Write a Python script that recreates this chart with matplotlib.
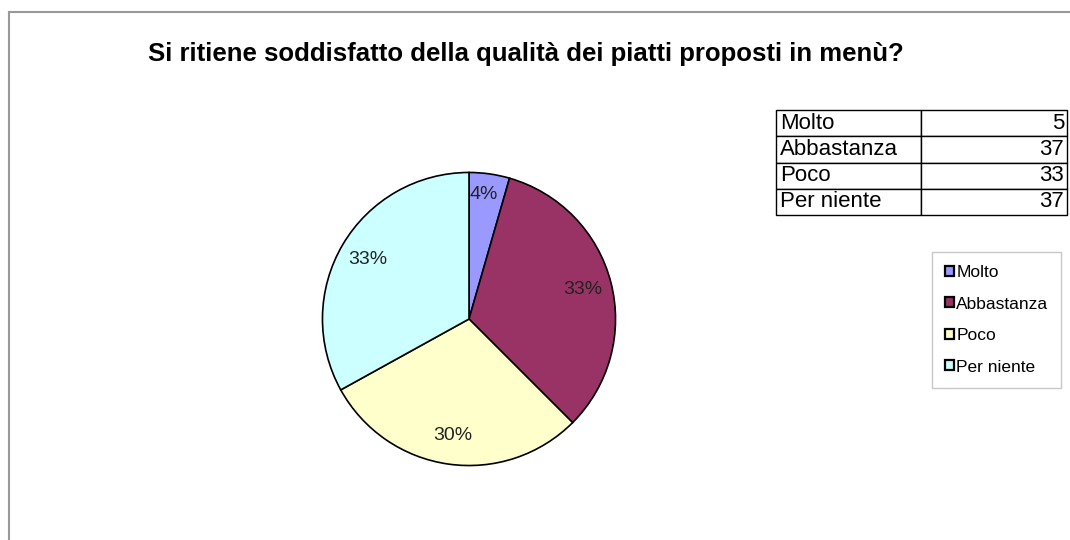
import matplotlib
matplotlib.use("Agg")
import matplotlib.pyplot as plt
from matplotlib.lines import Line2D
from matplotlib.patches import Patch

categories = ["Molto", "Abbastanza", "Poco", "Per niente"]
counts = [5, 37, 33, 37]
pct_labels = ["4%", "33%", "30%", "33%"]
colors = ["#9999FF", "#993366", "#FFFFCC", "#CCFFFF"]
title = "Si ritiene soddisfatto della qualità dei piatti proposti in menù?"

plt.rcParams['font.family'] = ['Liberation Sans', 'DejaVu Sans']

W, H = 1070, 540
fig = plt.figure(figsize=(W / 100, H / 100), dpi=100)

# outer frame (top and left edge only visible)
fig.add_artist(Line2D([9 / W, 1.0], [1 - 12 / H, 1 - 12 / H], color="#999999", lw=1.5))
fig.add_artist(Line2D([9 / W, 9 / W], [0.0, 1 - 12 / H], color="#999999", lw=1.5))

fig.text(526 / W, 1 - 54 / H, title, ha="center", va="center",
         fontsize=18.5, fontweight="bold")

# pie
cx, cy, r = 469, 319, 148
ax = fig.add_axes([(cx - r) / W, (H - cy - r) / H, 2 * r / W, 2 * r / H])
wedges, texts = ax.pie(
    counts, colors=colors, startangle=90, counterclock=False,
    labels=pct_labels, labeldistance=0.8,
    wedgeprops=dict(edgecolor="black", linewidth=1.2),
    textprops=dict(fontsize=14, color="#222222", ha="center", va="center"))
for t in texts:
    t.set_ha("center")
    t.set_va("center")
texts[0].set_position((0.1, 0.85))
ax.set_xlim(-1.01, 1.01)
ax.set_ylim(-1.01, 1.01)
ax.set_aspect("equal")
ax.axis("off")

# data table
tx0, tx1, ty0, ty1 = 776, 1067, 110, 215
tax = fig.add_axes([tx0 / W, (H - ty1) / H, (tx1 - tx0) / W, (ty1 - ty0) / H])
tax.axis("off")
cell_text = [[c, str(v)] for c, v in zip(categories, counts)]
tbl = tax.table(cellText=cell_text, bbox=[0, 0, 1, 1],
                colWidths=[(921 - tx0) / (tx1 - tx0), (tx1 - 921) / (tx1 - tx0)])
tbl.auto_set_font_size(False)
for (row, col), cell in tbl.get_celld().items():
    cell.set_edgecolor("black")
    cell.set_linewidth(1.0)
    cell.get_text().set_fontsize(16)
    cell.PAD = 0.025
    if col == 0:
        cell.get_text().set_ha("left")
        cell._loc = "left"
    else:
        cell.PAD = 0.02
        cell.get_text().set_ha("right")
        cell._loc = "right"

# legend
handles = [Patch(facecolor=c, edgecolor="black", linewidth=1.6) for c in colors]
leg = fig.legend(handles, categories, loc="upper left",
                 bbox_to_anchor=(932 / W, 1 - 252 / H),
                 fontsize=12.5, frameon=True, fancybox=False,
                 handlelength=0.5, handleheight=0.5, handletextpad=0.15,
                 labelspacing=0.95, borderpad=0.75, borderaxespad=0)
leg.get_frame().set_edgecolor("#bbbbbb")
leg.get_frame().set_linewidth(1.0)

fig.savefig("out.png", dpi=100)
